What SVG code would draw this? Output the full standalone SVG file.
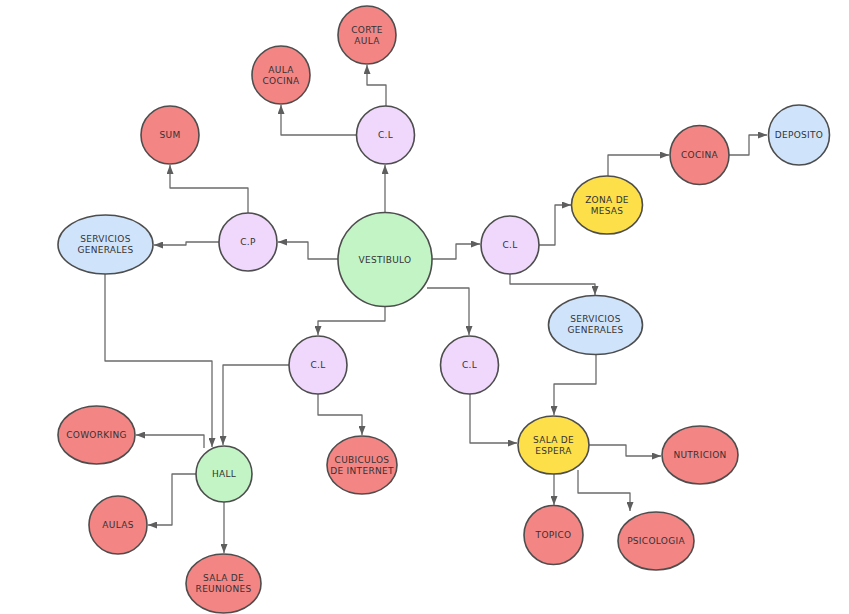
<svg xmlns="http://www.w3.org/2000/svg" width="849" height="614" viewBox="0 0 849 614">
<defs>
<marker id="arr" markerUnits="userSpaceOnUse" markerWidth="9" markerHeight="7" refX="9" refY="3.5" orient="auto">
<path d="M0,0 L9,3.5 L0,7 z" fill="#5e5e5e"/>
</marker>
<style>
.n{stroke:#4d4d4d;stroke-width:1.6}
.red{fill:#f48585}
.pur{fill:#efd8fb}
.grn{fill:#c2f4c6}
.blu{fill:#cfe4fb}
.yel{fill:#fde049}
text{font-family:"DejaVu Sans","Liberation Sans",sans-serif;font-size:9px;fill:#333;text-anchor:middle;letter-spacing:0.3px}
.c path{fill:none;stroke:#6b6b6b;stroke-width:1.3;marker-end:url(#arr);stroke-linejoin:round}
</style>
</defs>
<rect width="849" height="614" fill="#fff"/>
<g class="c" id="connectors">
<path d="M386,106 V85 H367 V65"/>
<path d="M357,135 H281 V105"/>
<path d="M385,212 V165"/>
<path d="M340,259 H308 V242 H278"/>
<path d="M248,213 V188 H170 V165"/>
<path d="M219,242 H186 V245 H154"/>
<path d="M432,259 H456 V244 H480"/>
<path d="M539,245 H555 V205 H571"/>
<path d="M608,176 V155 H669"/>
<path d="M729,155 H749 V135 H767"/>
<path d="M510,274 V284 H595 V295"/>
<path d="M427,288 H469 V335"/>
<path d="M385,306 V321 H318 V335"/>
<path d="M105,274 V361 H212 V447"/>
<path d="M289,365 H223 V445"/>
<path d="M318,394 V415 H362 V435"/>
<path d="M204,448 V435 H136"/>
<path d="M196,474 H172 V525 H148"/>
<path d="M224,502 V553"/>
<path d="M470,394 V443 H517"/>
<path d="M596,354 V384 H554 V415"/>
<path d="M589,445 H626 V456 H661"/>
<path d="M554,474 V505"/>
<path d="M578,470 V493 H630 V511"/>
</g>
<g id="corte-aula"><circle class="n red" cx="367" cy="35" r="29"/><text x="367" y="33">CORTE</text><text x="367" y="44">AULA</text></g>
<g id="aula-cocina"><circle class="n red" cx="281" cy="75" r="29"/><text x="281" y="73">AULA</text><text x="281" y="84">COCINA</text></g>
<g id="cl-top"><circle class="n pur" cx="385.5" cy="135" r="29"/><text x="385.5" y="138">C.L</text></g>
<g id="sum"><circle class="n red" cx="170" cy="135" r="29"/><text x="170" y="138">SUM</text></g>
<g id="cp"><circle class="n pur" cx="248" cy="242" r="29"/><text x="248" y="245">C.P</text></g>
<g id="serv-left"><ellipse class="n blu" cx="105.5" cy="244.5" rx="47.5" ry="29.5"/><text x="105.5" y="242">SERVICIOS</text><text x="105.5" y="253">GENERALES</text></g>
<g id="vestibulo"><circle class="n grn" cx="385" cy="259.5" r="47"/><text x="385" y="262.5">VESTIBULO</text></g>
<g id="cl-right"><circle class="n pur" cx="510" cy="245" r="29"/><text x="510" y="248">C.L</text></g>
<g id="zona-mesas"><ellipse class="n yel" cx="607" cy="205" rx="35.5" ry="29"/><text x="607" y="203">ZONA DE</text><text x="607" y="214">MESAS</text></g>
<g id="cocina"><circle class="n red" cx="699.5" cy="155" r="29.5"/><text x="699.5" y="158">COCINA</text></g>
<g id="deposito"><ellipse class="n blu" cx="799" cy="135" rx="30.5" ry="30"/><text x="799" y="138">DEPOSITO</text></g>
<g id="serv-right"><ellipse class="n blu" cx="595.5" cy="325" rx="47" ry="29.5"/><text x="595.5" y="322">SERVICIOS</text><text x="595.5" y="333">GENERALES</text></g>
<g id="cl-low-left"><circle class="n pur" cx="318" cy="365" r="29"/><text x="318" y="368">C.L</text></g>
<g id="cl-low-right"><circle class="n pur" cx="469.5" cy="365" r="29"/><text x="469.5" y="368">C.L</text></g>
<g id="hall"><circle class="n grn" cx="224" cy="474" r="28"/><text x="224" y="477">HALL</text></g>
<g id="coworking"><ellipse class="n red" cx="96.5" cy="435" rx="38.5" ry="29"/><text x="96.5" y="438">COWORKING</text></g>
<g id="aulas"><circle class="n red" cx="118" cy="525" r="29"/><text x="118" y="528">AULAS</text></g>
<g id="sala-reuniones"><ellipse class="n red" cx="223.5" cy="583.5" rx="37.5" ry="29.5"/><text x="223.5" y="581">SALA DE</text><text x="223.5" y="592">REUNIONES</text></g>
<g id="cubiculos"><ellipse class="n red" cx="362" cy="465" rx="35" ry="29"/><text x="362" y="463">CUBICULOS</text><text x="362" y="474">DE INTERNET</text></g>
<g id="sala-espera"><ellipse class="n yel" cx="553.5" cy="445" rx="35.5" ry="29"/><text x="553.5" y="443">SALA DE</text><text x="553.5" y="454">ESPERA</text></g>
<g id="nutricion"><ellipse class="n red" cx="700" cy="455" rx="38" ry="29"/><text x="700" y="458">NUTRICION</text></g>
<g id="topico"><circle class="n red" cx="553.5" cy="535" r="29.5"/><text x="553.5" y="538">TOPICO</text></g>
<g id="psicologia"><ellipse class="n red" cx="656" cy="541" rx="38" ry="29"/><text x="656" y="544">PSICOLOGIA</text></g>
</svg>
